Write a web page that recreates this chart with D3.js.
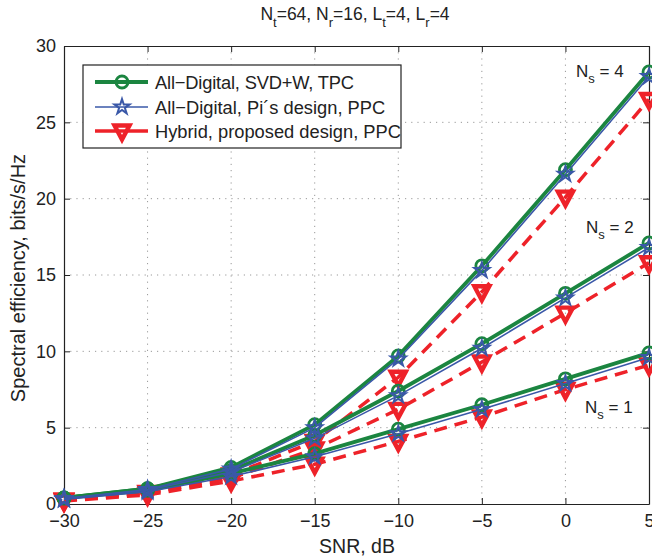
<!DOCTYPE html>
<html><head><meta charset="utf-8">
<script src="https://cdn.jsdelivr.net/npm/d3@7"></script>
<style>body{margin:0;background:#fff;} text{font-family:"Liberation Sans",Arial,sans-serif;fill:#222;}</style>
</head><body>
<svg id="c" width="652" height="560"></svg>
<script>
const snr = [-30, -25, -20, -15, -10, -5, 0, 5];
const xTicks = [-30, -25, -20, -15, -10, -5, 0, 5];
const yTicks = [0, 5, 10, 15, 20, 25, 30];
// All-Digital, SVD+W, TPC
const svd_ns4 = [0.4, 1.0, 2.4, 5.2, 9.7, 15.6, 21.9, 28.3];
const svd_ns2 = [0.4, 1.0, 2.2, 4.5, 7.4, 10.5, 13.8, 17.1];
const svd_ns1 = [0.4, 0.9, 2.0, 3.3, 4.9, 6.5, 8.2, 9.9];
// All-Digital, Pi's design, PPC
const pi_ns4 = [0.35, 0.95, 2.3, 5.0, 9.5, 15.3, 21.6, 28.0];
const pi_ns2 = [0.35, 0.9, 2.1, 4.3, 7.1, 10.2, 13.5, 16.8];
const pi_ns1 = [0.3, 0.8, 1.8, 3.1, 4.6, 6.2, 7.9, 9.6];
// Hybrid, proposed design, PPC
const hyb_ns4 = [0.25, 0.75, 1.9, 4.1, 8.3, 13.9, 20.1, 26.5];
const hyb_ns2 = [0.25, 0.7, 1.7, 3.6, 6.2, 9.3, 12.5, 15.8];
const hyb_ns1 = [0.2, 0.6, 1.5, 2.6, 4.1, 5.7, 7.5, 9.1];
const legendLabels = ["All\u2212Digital, SVD+W, TPC", "All\u2212Digital, Pi\u00b4s design, PPC", "Hybrid, proposed design, PPC"];

const svg = d3.select("#c");
const L = 64, R = 649, T = 46, B = 504;
const x = d3.scaleLinear().domain([-30, 5]).range([L, R]);
const y = d3.scaleLinear().domain([0, 30]).range([B, T]);

// grid
const g = svg.append("g");
g.selectAll(".gx").data(xTicks.slice(1, -1)).enter().append("line")
  .attr("x1", d => x(d)).attr("x2", d => x(d)).attr("y1", T).attr("y2", B)
  .attr("stroke", "#999").attr("stroke-width", 1).attr("stroke-dasharray", "1.2,5");
g.selectAll(".gy").data(yTicks.slice(1, -1)).enter().append("line")
  .attr("y1", d => y(d)).attr("y2", d => y(d)).attr("x1", L).attr("x2", R)
  .attr("stroke", "#999").attr("stroke-width", 1).attr("stroke-dasharray", "1.2,5");

// axes
const fs = "18px";
const ax = svg.append("g").attr("transform", `translate(0,${B})`)
  .call(d3.axisBottom(x).tickValues(xTicks).tickSizeInner(-6).tickSizeOuter(0).tickPadding(10).tickFormat(d => String(d).replace("-", "\u2212")));
const axT = svg.append("g").attr("transform", `translate(0,${T})`)
  .call(d3.axisTop(x).tickValues(xTicks).tickSizeInner(-6).tickSizeOuter(0).tickFormat(""));
const ay = svg.append("g").attr("transform", `translate(${L},0)`)
  .call(d3.axisLeft(y).tickValues(yTicks).tickSizeInner(-6).tickSizeOuter(0).tickPadding(8));
const ayR = svg.append("g").attr("transform", `translate(${R},0)`)
  .call(d3.axisRight(y).tickValues(yTicks).tickSizeInner(-6).tickSizeOuter(0).tickFormat(""));
[ax, axT, ay, ayR].forEach(a => {
  a.select(".domain").attr("stroke", "#222").attr("stroke-width", 1.2);
  a.selectAll(".tick line").attr("stroke", "#222");
  a.selectAll("text").attr("font-size", fs).attr("font-family", "Liberation Sans, Arial, sans-serif").attr("fill", "#222");
});

const cG = "#1b8540", cB = "#3a58a8", cR = "#ee2229";
const line = d3.line().x((d, i) => x(snr[i])).y(d => y(d));
const series = [
  {data: [svd_ns1, svd_ns2, svd_ns4], color: cG, w: 3.8, dash: null, m: "circle"},
  {data: [pi_ns1, pi_ns2, pi_ns4], color: cB, w: 1.6, dash: null, m: "star"},
  {data: [hyb_ns1, hyb_ns2, hyb_ns4], color: cR, w: 3.5, dash: "13,8", m: "tri"}
];
const plot = svg.append("g");
function marker(sel, type, color, cx, cy) {
  if (type === "circle") {
    sel.append("circle").attr("cx", cx).attr("cy", cy).attr("r", 6)
      .attr("fill", "none").attr("stroke", color).attr("stroke-width", 2.8);
  } else if (type === "star") {
    sel.append("path").attr("d", d3.symbol().type(d3.symbolStar).size(70)())
      .attr("transform", `translate(${cx},${cy})`)
      .attr("fill", "none").attr("stroke", color).attr("stroke-width", 2);
  } else {
    sel.append("path").attr("d", `M${cx - 7.5},${cy - 5.5}L${cx + 7.5},${cy - 5.5}L${cx},${cy + 8.5}Z`)
      .attr("fill", "none").attr("stroke", color).attr("stroke-width", 4.4).attr("stroke-linejoin", "miter");
  }
}
[series[2], series[0], series[1]].forEach(s => {
  s.data.forEach(arr => {
    plot.append("path").attr("d", line(arr)).attr("fill", "none")
      .attr("stroke", s.color).attr("stroke-width", s.w)
      .attr("stroke-dasharray", s.dash);
    arr.forEach((v, i) => marker(plot, s.m, s.color, x(snr[i]), y(v)));
  });
});

// legend
const lg = svg.append("g");
lg.append("rect").attr("x", 83).attr("y", 65).attr("width", 318).attr("height", 83)
  .attr("fill", "#fff").attr("stroke", "#222").attr("stroke-width", 1.2);
const lys = [82, 107, 131];
[series[0], series[1], series[2]].forEach((s, i) => {
  lg.append("line").attr("x1", 95).attr("x2", 148).attr("y1", lys[i]).attr("y2", lys[i])
    .attr("stroke", s.color).attr("stroke-width", s.w);
  marker(lg, s.m, s.color, 122, lys[i]);
  lg.append("text").attr("x", 155).attr("y", lys[i] + 6.5).attr("font-size", "18.3px").attr("textLength", i === 0 ? 199 : null).text(legendLabels[i]);
});

// annotations
function ns(xp, yp, n) {
  const t = svg.append("text").attr("x", xp).attr("y", yp).attr("font-size", "17px");
  t.append("tspan").text("N");
  t.append("tspan").attr("dy", 6).attr("font-size", "13px").text("s");
  t.append("tspan").attr("dy", -6).text(" = " + n);
}
ns(576, 77, 4);
ns(586, 233, 2);
ns(585, 413, 1);

// title
const tt = svg.append("text").attr("x", 355).attr("y", 20).attr("text-anchor", "middle").attr("font-size", "17.5px");
[["N", "t", "=64, "], ["N", "r", "=16, "], ["L", "t", "=4, "], ["L", "r", "=4"]].forEach(p => {
  tt.append("tspan").text(p[0]);
  tt.append("tspan").attr("dy", 7).attr("font-size", "13px").text(p[1]);
  tt.append("tspan").attr("dy", -7).text(p[2]);
});

// axis labels
svg.append("text").attr("x", 357).attr("y", 553).attr("text-anchor", "middle").attr("font-size", "19.5px").text("SNR, dB");
svg.append("text").attr("transform", "translate(25,278) rotate(-90)").attr("text-anchor", "middle").attr("font-size", "20px").text("Spectral efficiency, bits/s/Hz");
</script>
</body></html>
